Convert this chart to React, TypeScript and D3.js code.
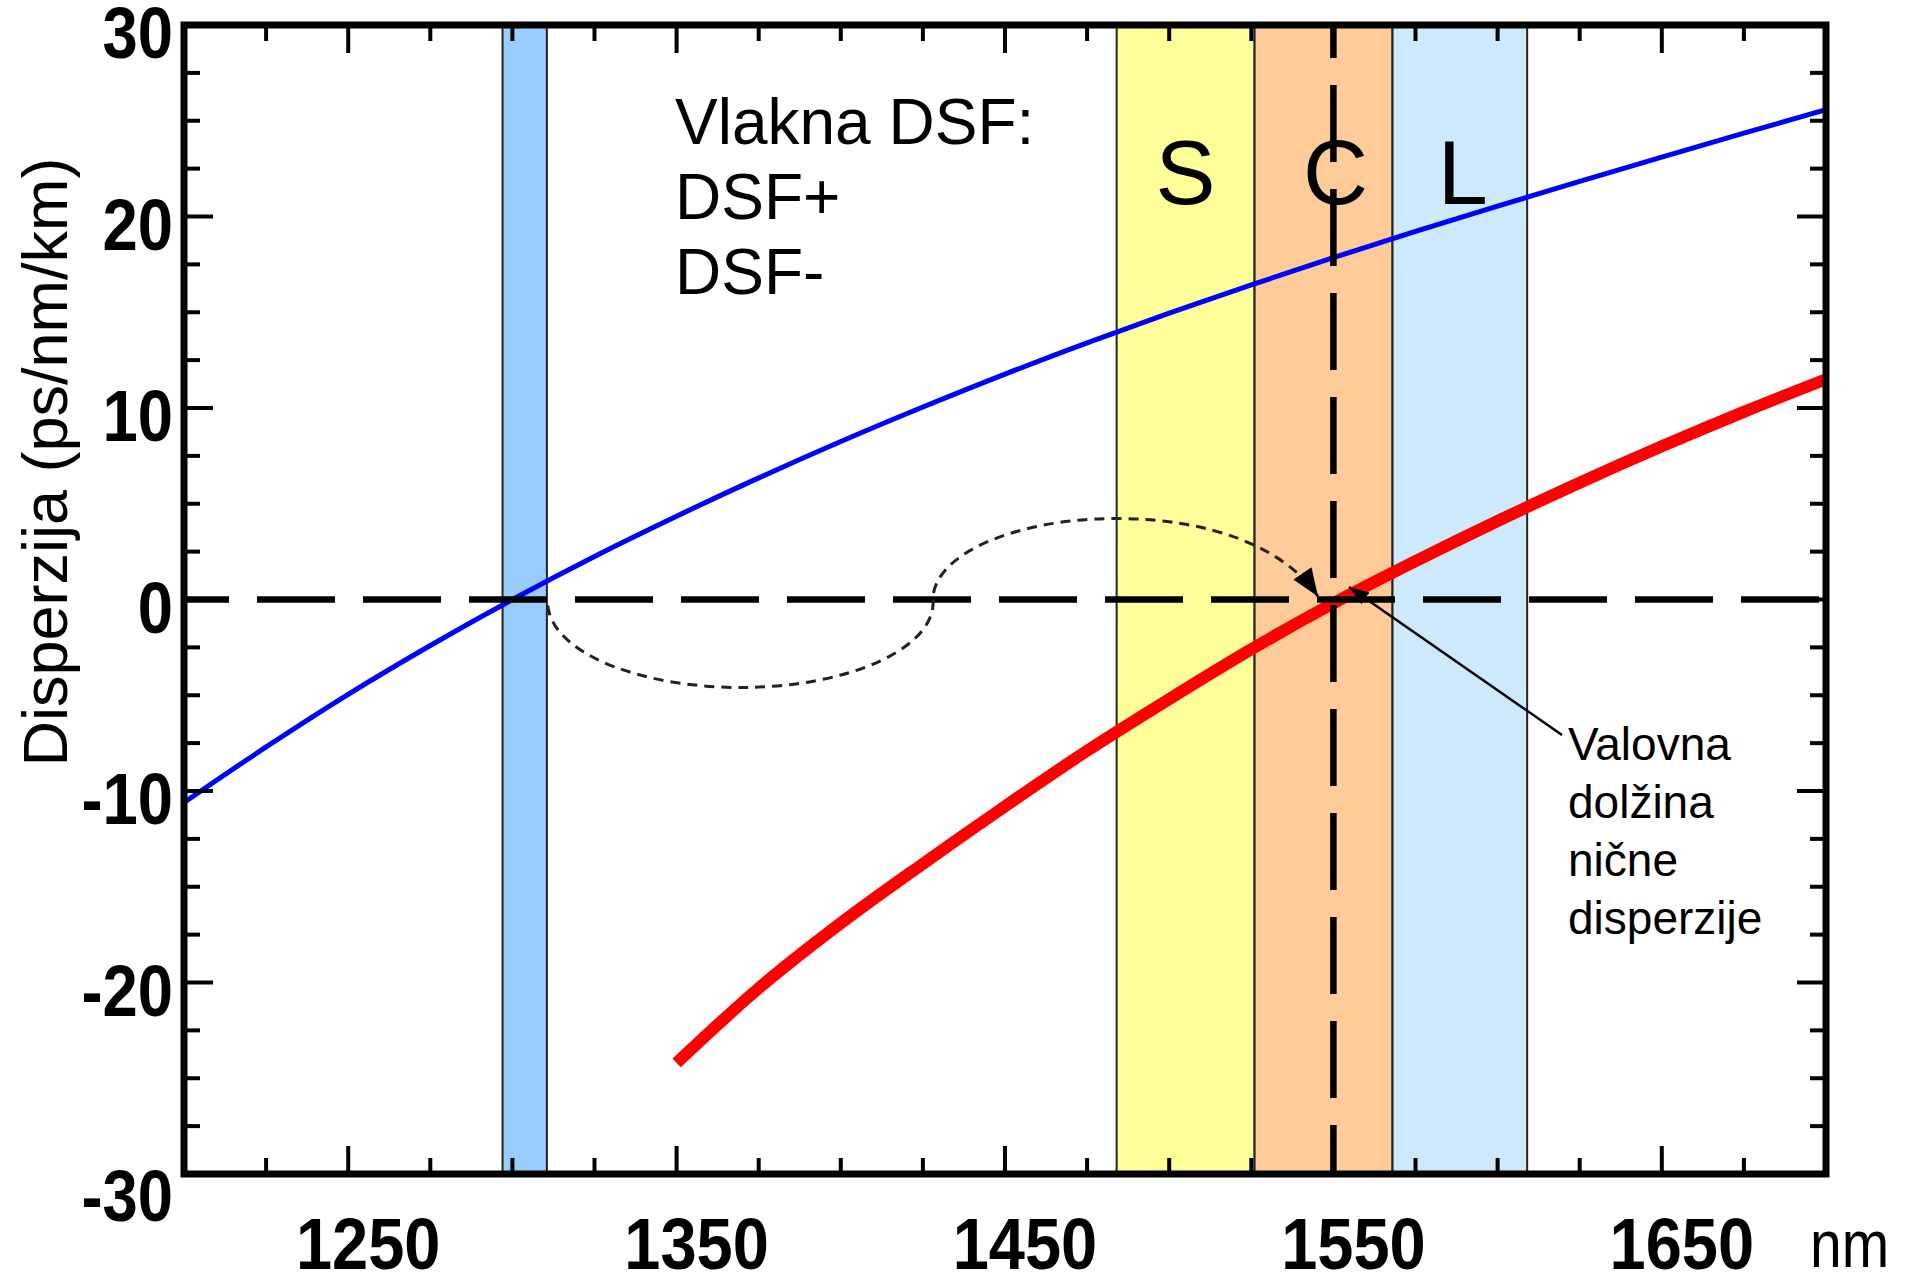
import React from "react";
import * as d3 from "d3";

// ---- data ----
const blueWavelengths = [1200, 1225, 1250, 1275, 1300, 1325, 1350, 1375, 1400, 1425, 1450, 1475, 1500, 1525, 1550, 1575, 1600, 1625, 1650, 1675, 1700];
const blueDispersion = [-10.6, -7.7, -4.95, -2.4, 0.0, 2.25, 4.35, 6.35, 8.25, 10.05, 11.77, 13.4, 14.95, 16.43, 17.85, 19.22, 20.54, 21.83, 23.1, 24.35, 25.58];

const redWavelengths = [1350, 1375, 1400, 1425, 1450, 1475, 1500, 1525, 1550, 1575, 1600, 1625, 1650, 1675, 1700];
const redDispersion = [-24.2, -20.3, -16.9, -13.8, -10.8, -7.9, -5.2, -2.6, -0.2, 2.0, 4.1, 6.1, 8.0, 9.8, 11.5];

const bandNames = ["", "S", "C", "L"];
const bandStarts = [1297, 1484, 1526, 1568];
const bandEnds = [1310.5, 1526, 1568, 1609];
const bandColors = ["#99CCFF", "#FFFF99", "#FFCC99", "#CCEAFB"];

const xTickLabels = [1250, 1350, 1450, 1550, 1650];
const yTickLabels = [-30, -20, -10, 0, 10, 20, 30];
const zeroDispersionWavelength = 1550;

const fiberTitle = ["Vlakna DSF:", "DSF+", "DSF-"];
const annotationLines = ["Valovna", "dolžina", "nične", "disperzije"];
const yTitle = "Disperzija (ps/nm/km)";
const xUnit = "nm";

const W = 1912;
const H = 1275;
const L = 184, R = 1826, T = 25, B = 1174;
const FONT = "'Liberation Sans', Arial, Helvetica, sans-serif";

export default function App() {
  const x = d3.scaleLinear().domain([1200, 1700]).range([L, R]);
  const y = d3.scaleLinear().domain([-30, 30]).range([B, T]);

  const line = d3
    .line<[number, number]>()
    .x((d) => x(d[0]))
    .y((d) => y(d[1]))
    .curve(d3.curveCatmullRom.alpha(0.5));

  const blueData: [number, number][] = blueWavelengths.map((w, i) => [w, blueDispersion[i]]);
  const redData: [number, number][] = redWavelengths.map((w, i) => [w, redDispersion[i]]);

  const xMinor = d3.range(1225, 1700, 25);
  const yMinor = d3.range(-27.5, 30, 2.5);
  const isXMajor = (v: number) => xTickLabels.includes(v);
  const isYMajor = (v: number) => Math.abs(v % 10) < 1e-6;

  const y0 = y(0);
  const xz = x(zeroDispersionWavelength);

  // dotted S-shaped arrow from blue zero to red zero
  const sx = x(bandEnds[0]) + 1;
  const midX = 933;
  const ex = 1318;
  const dotted = `M${sx},${y0 + 6} A${(midX - sx) / 2},85 0 0 0 ${midX},${y0} C${midX},${y0 - 45} ${1015},${y0 - 81} ${1117},${y0 - 81} C${1210},${y0 - 81} ${1285},${y0 - 52} ${ex},${y0 - 3}`;

  return (
    <svg
      width={W}
      height={H}
      style={{ position: "absolute", left: 0, top: 0, background: "#fff" }}
      fontFamily={FONT}
    >
      <defs>
        <marker id="ah" markerUnits="userSpaceOnUse" markerWidth="30" markerHeight="22" refX="28" refY="11" orient="auto">
          <path d="M0,0 L28,11 L0,22 z" fill="#000" />
        </marker>
        <marker id="ah2" markerUnits="userSpaceOnUse" markerWidth="22" markerHeight="14" refX="20" refY="7" orient="auto">
          <path d="M0,0 L20,7 L0,14 z" fill="#000" />
        </marker>
      </defs>
      <rect x={0} y={0} width={W} height={H} fill="#fff" />

      {/* bands */}
      {bandStarts.map((s, i) => (
        <rect
          key={"band" + i}
          x={x(s)}
          y={T}
          width={x(bandEnds[i]) - x(s)}
          height={B - T}
          fill={bandColors[i]}
          stroke="#222"
          strokeWidth={2}
        />
      ))}

      {/* curves */}
      <path d={line(blueData) || ""} fill="none" stroke="#0000FF" strokeWidth={5} />
      <path d={line(redData) || ""} fill="none" stroke="#FF0000" strokeWidth={12} strokeLinecap="butt" />

      {/* dashed reference lines */}
      <line x1={L} x2={R} y1={y0} y2={y0} stroke="#000" strokeWidth={6.5} strokeDasharray="78 28" strokeDashoffset={33} />
      <line x1={xz} x2={xz} y1={T} y2={B} stroke="#000" strokeWidth={6.5} strokeDasharray="77 27" strokeDashoffset={44} />

      {/* dotted arrow */}
      <path d={dotted} fill="none" stroke="#222" strokeWidth={3} strokeDasharray="10 7" markerEnd="url(#ah)" />

      {/* annotation arrow */}
      <line x1={1562} y1={735} x2={1349} y2={587} stroke="#000" strokeWidth={2.5} markerEnd="url(#ah2)" />

      {/* ticks */}
      {xMinor.map((v) => {
        const len = isXMajor(v) ? 28 : 16;
        return (
          <g key={"xt" + v}>
            <line x1={x(v)} x2={x(v)} y1={B} y2={B - len} stroke="#000" strokeWidth={4} />
            <line x1={x(v)} x2={x(v)} y1={T} y2={T + len} stroke="#000" strokeWidth={4} />
          </g>
        );
      })}
      {yMinor.map((v) => {
        const len = isYMajor(v) ? 29 : 16;
        return (
          <g key={"yt" + v}>
            <line x1={L} x2={L + len} y1={y(v)} y2={y(v)} stroke="#000" strokeWidth={4} />
            <line x1={R} x2={R - len} y1={y(v)} y2={y(v)} stroke="#000" strokeWidth={4} />
          </g>
        );
      })}

      {/* frame */}
      <rect x={L} y={T} width={R - L} height={B - T} fill="none" stroke="#000" strokeWidth={7} />

      {/* tick labels */}
      {yTickLabels.map((v) => {
        const off = v === -30 ? 21 : 7;
        return (
          <text
            key={"yl" + v}
            transform={`translate(173,${y(v) + off + 26}) scale(0.88,1)`}
            textAnchor="end"
            fontSize={72}
            fontWeight="bold"
            fill="#000"
          >
            {v}
          </text>
        );
      })}
      {xTickLabels.map((v) => (
        <text
          key={"xl" + v}
          transform={`translate(${x(v) + 20},1269) scale(0.89,1)`}
          textAnchor="middle"
          fontSize={73}
          fontWeight="bold"
          fill="#000"
        >
          {v}
        </text>
      ))}
      <text transform="translate(1810,1267) scale(0.85,1)" fontSize={67} fill="#000">
        {xUnit}
      </text>

      {/* axis title */}
      <text transform="translate(67,462) rotate(-90)" textAnchor="middle" fontSize={63} fill="#000">
        {yTitle}
      </text>

      {/* band labels */}
      {bandNames.map((n, i) =>
        n ? (
          <text
            key={"bn" + i}
            x={n === "C" ? xz + 2 : (x(bandStarts[i]) + x(bandEnds[i])) / 2 + (n === "L" ? 3 : 0)}
            y={204}
            textAnchor="middle"
            fontSize={90}
            fill="#000"
          >
            {n}
          </text>
        ) : null
      )}

      {/* fiber title */}
      {fiberTitle.map((t, i) => (
        <text key={"ft" + i} x={675} y={144 + i * 75} fontSize={64} fill="#000">
          {t}
        </text>
      ))}

      {/* annotation */}
      {annotationLines.map((t, i) => (
        <text key={"an" + i} x={1568} y={760 + i * 58} fontSize={46} fill="#000">
          {t}
        </text>
      ))}
    </svg>
  );
}
